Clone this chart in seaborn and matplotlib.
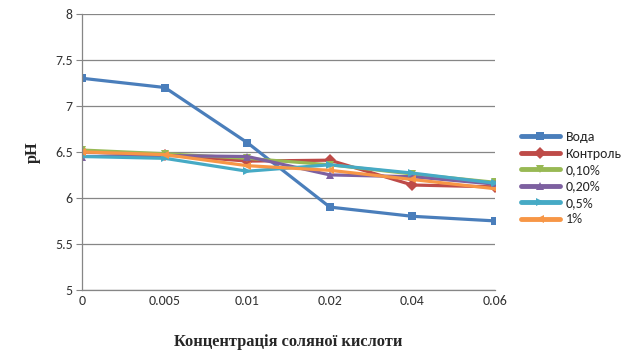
import matplotlib
matplotlib.use("Agg")
import matplotlib.pyplot as plt
import seaborn as sns
import pandas as pd

categories = ["0", "0.005", "0.01", "0.02", "0.04", "0.06"]
series_names = ["Вода", "Контроль", "0,10%", "0,20%", "0,5%", "1%"]
voda = [7.30, 7.20, 6.60, 5.90, 5.80, 5.75]
kontrol = [6.50, 6.47, 6.40, 6.41, 6.14, 6.12]
p010 = [6.52, 6.48, 6.43, 6.36, 6.26, 6.17]
p020 = [6.45, 6.46, 6.45, 6.25, 6.23, 6.15]
p05 = [6.45, 6.43, 6.29, 6.36, 6.27, 6.16]
p1 = [6.50, 6.47, 6.35, 6.30, 6.20, 6.10]

values = [voda, kontrol, p010, p020, p05, p1]
colors = ["#4a7ebb", "#be4b48", "#98b954", "#7d60a0", "#46aac5", "#f79646"]
markers = ["s", "D", "v", "^", ">", "<"]

rows = []
for name, vals in zip(series_names, values):
    for i, (c, v) in enumerate(zip(categories, vals)):
        rows.append({"pos": i, "cat": c, "series": name, "pH": v})
df = pd.DataFrame(rows)

sns.set_style("white")
plt.rcParams["font.family"] = ["Carlito", "Liberation Sans", "DejaVu Sans"]

fig = plt.figure(figsize=(6.24, 3.57), dpi=100)
ax = fig.add_axes([0.132, 0.188, 0.661, 0.773])

sns.lineplot(data=df, x="pos", y="pH", hue="series", style="series",
             hue_order=series_names, style_order=series_names,
             palette=colors, markers=markers, dashes=False,
             linewidth=2.3, markersize=6, markeredgewidth=0, ax=ax)

ax.set_xlim(0, len(categories) - 1)
ax.set_ylim(5, 8)
ax.set_xticks(range(len(categories)))
ax.set_xticklabels(categories)
ax.set_yticks([5, 5.5, 6, 6.5, 7, 7.5, 8])
ax.set_yticklabels(["5", "5.5", "6", "6.5", "7", "7.5", "8"])
ax.yaxis.grid(True, color="#868686", linewidth=0.9)
ax.xaxis.grid(False)
for s in ["top", "right"]:
    ax.spines[s].set_visible(False)
for s in ["left", "bottom"]:
    ax.spines[s].set_color("#868686")
    ax.spines[s].set_linewidth(0.9)
ax.tick_params(axis="y", which="major", length=4, color="#868686",
               labelsize=10, labelcolor="#333333", pad=3, left=True)
ax.tick_params(axis="x", length=0, labelsize=10, labelcolor="#333333", pad=4)

ax.set_xlabel("Концентрація соляної кислоти", fontsize=11.8, fontweight="bold",
              family="Liberation Serif", labelpad=19)
ax.set_ylabel("pH", fontsize=11.8, fontweight="bold", family="Liberation Serif",
              labelpad=10)

leg = ax.legend(loc="upper left", bbox_to_anchor=(1.05, 0.595), frameon=False,
                fontsize=10, handlelength=2.8, labelspacing=0.32,
                borderaxespad=0, handletextpad=0.4)
for line in leg.get_lines():
    line.set_linewidth(3.5)

fig.savefig("out.png", dpi=100, facecolor="white")
